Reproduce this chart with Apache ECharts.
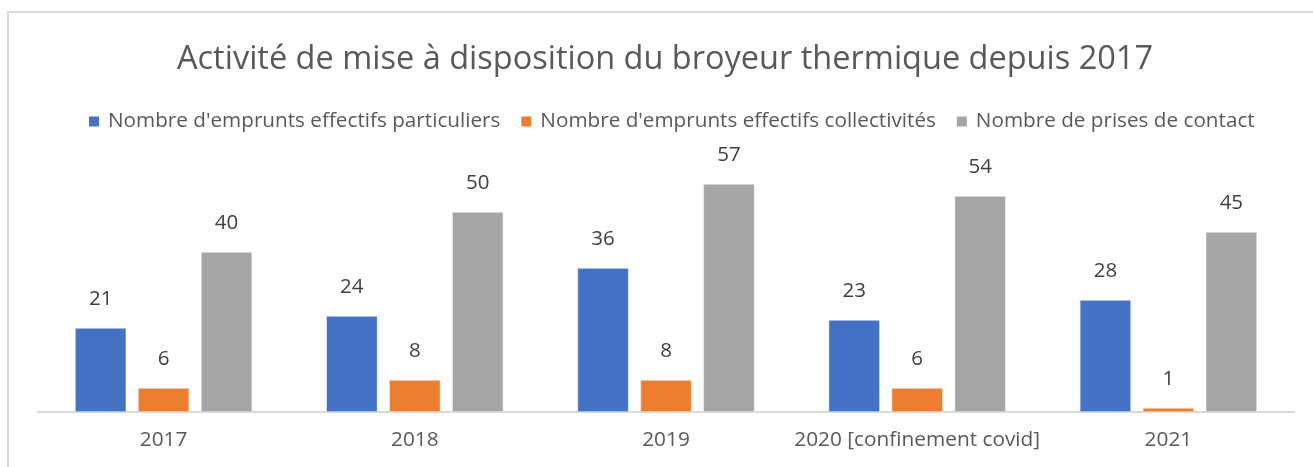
<!DOCTYPE html>
<html>
<head>
<meta charset="utf-8">
<script src="https://cdn.jsdelivr.net/npm/echarts@6/dist/echarts.min.js"></script>
<style>html,body{margin:0;padding:0;background:#fff;}#c{width:1313px;height:467px;}</style>
</head>
<body>
<div id="c"></div>
<script>
const categories = ['2017', '2018', '2019', '2020 [confinement covid]', '2021'];
const seriesNames = ["Nombre d'emprunts effectifs particuliers", "Nombre d'emprunts effectifs collectivités", "Nombre de prises de contact"];
const particuliers = [21, 24, 36, 23, 28];
const collectivites = [6, 8, 8, 6, 1];
const contacts = [40, 50, 57, 54, 45];
const colors = ['#4472C4', '#ED7D31', '#A5A5A5'];
const titleText = 'Activité de mise à disposition du broyeur thermique depuis 2017';

const FONT = 'Open Sans';
const chart = echarts.init(document.getElementById('c'), null, {renderer: 'canvas'});
const mk = (name, data, i) => ({
  name: name, type: 'bar', data: data,
  barGap: '23%', barCategoryGap: '29.5%',
  itemStyle: {color: colors[i], borderColor: '#fff', borderWidth: 0.5},
  label: {show: true, position: 'top', distance: 18, color: '#404040', fontSize: 20.5, fontFamily: FONT},
  emphasis: {disabled: true}
});
chart.setOption({
  animation: false,
  color: colors,
  graphic: [{type: 'rect', shape: {x: 8, y: 12, width: 1330, height: 500}, style: {fill: 'none', stroke: '#d9d9d9', lineWidth: 2}, silent: true, z: -1}],
  title: {text: titleText, left: 172, top: 38, textStyle: {fontFamily: FONT, fontSize: 32.5, fontWeight: 'normal', color: '#595959'}},
  legend: {
    top: 106, left: 82, itemWidth: 12, itemHeight: 12, itemGap: 19,
    icon: 'rect',
    textStyle: {fontFamily: FONT, fontSize: 20.7, color: '#595959', padding: [0, 0, 0, 3]},
    data: seriesNames
  },
  grid: {left: 38, right: 19, top: 172, bottom: 55, containLabel: false},
  xAxis: {
    type: 'category', data: categories,
    axisLine: {lineStyle: {color: '#d9d9d9', width: 2}},
    axisTick: {show: false},
    axisLabel: {fontFamily: FONT, fontSize: 20.8, color: '#595959', margin: 18, interval: 0}
  },
  yAxis: {type: 'value', min: 0, max: 60, show: false, splitLine: {show: false}},
  series: [mk(seriesNames[0], particuliers, 0), mk(seriesNames[1], collectivites, 1), mk(seriesNames[2], contacts, 2)]
});
</script>
</body>
</html>
